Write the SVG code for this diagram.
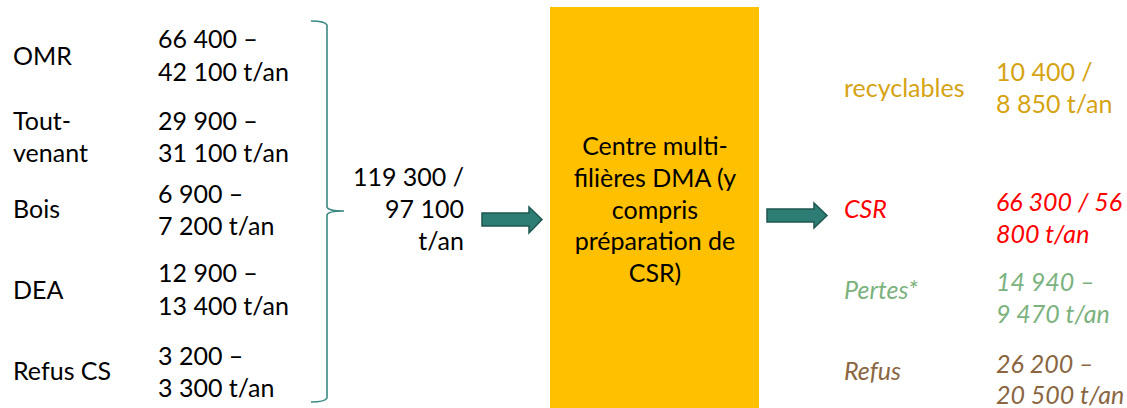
<svg xmlns="http://www.w3.org/2000/svg" width="1127" height="408" viewBox="0 0 1127 408">
<style>
text{font-family:Lato,"Liberation Sans",sans-serif;font-size:25px;fill:#000}
.r{text-anchor:end}
.m{text-anchor:middle}
.it{font-style:italic}
.gold{fill:#D6A312}
.red{fill:#FF0000}
.green{fill:#7BB27E}
.brown{fill:#8A6641}
.arrow{fill:#2E7D74;stroke:#1E5650;stroke-width:1.5}
.brace{fill:none;stroke:#3A8983;stroke-width:1.6}
</style>
<g id="inputs">
<g id="omr"><text x="13" y="65">OMR</text><text x="158" y="48">66 400 –</text><text x="158" y="81">42 100 t/an</text></g>
<g id="toutvenant"><text x="13" y="130">Tout-</text><text x="13" y="162">venant</text><text x="158" y="130">29 900 –</text><text x="158" y="162">31 100 t/an</text></g>
<g id="bois"><text x="13" y="218">Bois</text><text x="158" y="203">6 900 –</text><text x="158" y="235">7 200 t/an</text></g>
<g id="dea"><text x="13" y="299">DEA</text><text x="158" y="282">12 900 –</text><text x="158" y="315">13 400 t/an</text></g>
<g id="refuscs"><text x="13" y="380">Refus CS</text><text x="158" y="365">3 200 –</text><text x="158" y="397">3 300 t/an</text></g>
</g>
<g id="total"><text class="r" x="464" y="186">119 300 /</text><text class="r" x="464" y="218">97 100</text><text class="r" x="464" y="250">t/an</text></g>
<g id="centre">
<rect x="550" y="7" width="209" height="401" fill="#FFC000"/>
<text class="m" x="655" y="155">Centre multi-</text>
<text class="m" x="655" y="187">filières DMA (y</text>
<text class="m" x="655" y="219">compris</text>
<text class="m" x="655" y="250">préparation de</text>
<text class="m" x="655" y="282">CSR)</text>
</g>
<g id="outputs">
<g id="recyclables"><text class="gold" x="844" y="97">recyclables</text><text class="gold" x="996" y="81">10 400 /</text><text class="gold" x="996" y="113">8 850 t/an</text></g>
<g id="csr"><text class="red it" x="844" y="218">CSR</text><text class="red it" x="996" y="211">66 300 / 56</text><text class="red it" x="996" y="243">800 t/an</text></g>
<g id="pertes"><text class="green it" x="844" y="299">Pertes*</text><text class="green it" x="996" y="291">14 940 –</text><text class="green it" x="996" y="323">9 470 t/an</text></g>
<g id="refus"><text class="brown it" x="844" y="380">Refus</text><text class="brown it" x="996" y="373">26 200 –</text><text class="brown it" x="996" y="404">20 500 t/an</text></g>
</g>
<g id="connectors">
<path class="brace" d="M311 21 Q325 21 327 25 V207 Q328 211 344 211 Q328 211 327 215 V398 Q325 402 311 402"/>
<path class="arrow" d="M482 213 H529 V207 L542 219.5 L529 233 V226 H482 Z"/>
<path class="arrow" d="M767 209 H814 V203 L827 215.5 L814 228 V222 H767 Z"/>
</g>
</svg>
